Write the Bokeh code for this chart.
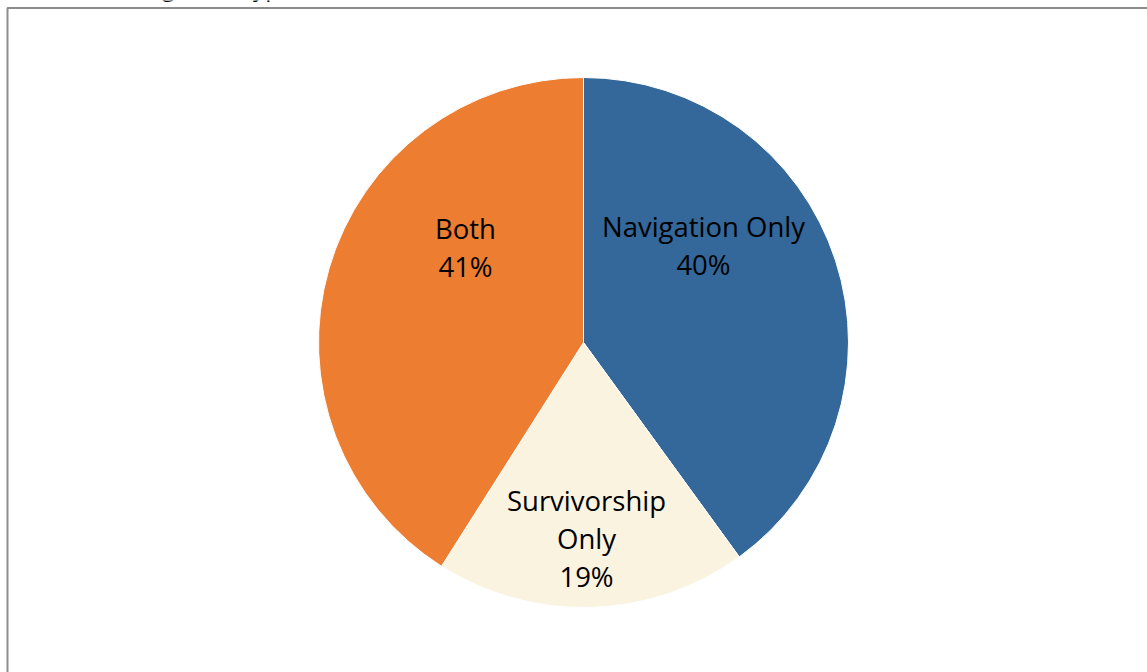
import math
from bokeh.plotting import figure
from bokeh.models import Range1d, ColumnDataSource
from bokeh.core.properties import value
from bokeh.embed import file_html
from bokeh.resources import INLINE

# ---- data ----
categories = ["Navigation Only", "Survivorship Only", "Both"]
label_lines = ["Navigation Only", "Survivorship\nOnly", "Both"]
percents = [40, 19, 41]
colors = ["#34679A", "#FAF3E0", "#ED7D31"]
title_text = "Tracking Data Type (% of studies)"

W, H = 1147, 672
p = figure(width=W, height=H, output_backend="svg", toolbar_location=None,
           x_range=Range1d(0, W), y_range=Range1d(0, H), min_border=0)
p.axis.visible = False
p.grid.visible = False
p.outline_line_color = None
p.background_fill_color = "white"
p.border_fill_color = "white"

# chart area border (partially off-page)
p.quad(left=[7], right=[W + 20], top=[H - 7.5], bottom=[-20],
       fill_color=None, line_color="#8C8C8C", line_width=2)

cx, cy, r = 583, H - 342, 265
total = sum(percents)
starts, ends = [], []
a = math.pi / 2
for v in percents:
    starts.append(a)
    a -= v / total * 2 * math.pi
    ends.append(a)

src = ColumnDataSource(dict(start=starts, end=ends, color=colors, cat=categories))
p.wedge(x=cx, y=cy, radius=r, start_angle="start", end_angle="end",
        direction="clock", fill_color="color", line_color="white",
        line_width=1, source=src)

# label anchors (offsets from pie centre, pixels; layout only)
label_offsets = [(120, 97), (3, -196), (-118, 95)]
lx, ly, lt = [], [], []
for lab, pct, (dx, dy) in zip(label_lines, percents, label_offsets):
    lx.append(cx + dx)
    ly.append(cy + dy)
    lt.append(f"{lab}\n{pct}%")
p.text(x=lx, y=ly, text=lt, text_align="center", text_baseline="middle",
       text_font=value("Open Sans"), text_font_size="27.5px",
       text_color="black", text_line_height=1.04)

# title, cut off at top of the page (as in the reference)
p.text(x=[80], y=[H + 14], text=[title_text], text_align="left",
       text_baseline="alphabetic", text_font=value("Open Sans"),
       text_font_size="24px", text_color="black")

open("out.html", "w").write(file_html(p, INLINE))
